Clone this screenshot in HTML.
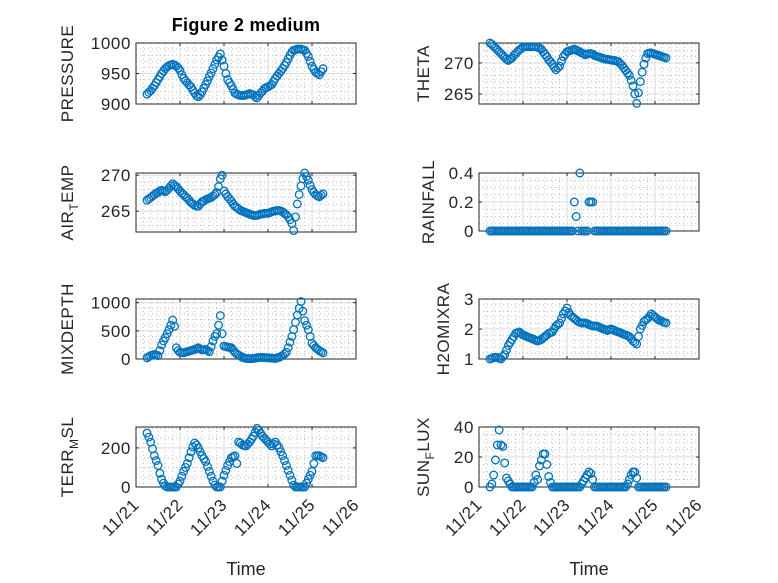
<!DOCTYPE html>
<html><head><meta charset="utf-8"><style>
html,body{margin:0;padding:0;background:#fff;}
svg{display:block;font-family:"Liberation Sans",sans-serif;}
</style></head><body>
<svg id="fig" width="778" height="583" viewBox="0 0 778 583" xmlns="http://www.w3.org/2000/svg">
<rect width="778" height="583" fill="#fff"/>
<text x="246" y="31" text-anchor="middle" font-size="18" font-weight="bold" fill="#000" letter-spacing="0.3">Figure 2 medium</text>
</svg>
<script>
const days = ["11/21","11/22","11/23","11/24","11/25","11/26"];
const t0 = 0.25, dtStep = 1/24;
const pressure = [916,919,922,926,930,935,940,945,950,954,
958,961,963,964,965,964,962,959,955,948,
942,938,935,931,928,923,918,914,912,915,
920,926,932,938,945,951,958,965,972,977,
982,972,962,950,940,935,930,924,918,916,
915,914,914,914,915,916,917,916,915,912,
910,914,918,921,925,927,928,930,932,937,
942,946,950,954,958,963,968,974,980,985,
988,989,990,990,990,989,988,983,978,970,
962,957,952,950,948,953,958];
const airTemp = [266.5,266.7,266.9,267.1,267.3,267.5,267.6,267.8,267.9,267.8,
267.7,267.9,268.2,268.5,268.8,268.6,268.4,268.1,267.8,267.5,
267.3,267.0,266.8,266.5,266.2,266.0,265.8,265.7,265.7,266.0,
266.3,266.4,266.6,266.7,266.8,266.9,267.1,267.3,267.6,268.4,
269.5,270.0,267.8,267.4,267.0,266.7,266.4,266.0,265.7,265.5,
265.3,265.1,265.0,264.9,264.8,264.7,264.6,264.5,264.4,264.4,
264.4,264.5,264.6,264.6,264.7,264.7,264.7,264.8,264.9,265.0,
265.0,265.1,265.1,265.0,264.9,264.7,264.5,264.2,263.8,263.3,
262.3,264.2,266.0,267.3,268.5,269.5,270.3,269.8,269.3,268.6,
268.0,267.6,267.3,267.1,267.0,267.2,267.4];
const mixDepth = [20,40,60,70,80,70,60,150,250,320,
380,450,520,600,690,580,200,150,120,115,
110,120,130,140,150,160,170,185,200,180,
160,165,170,150,130,220,320,400,450,600,
770,450,230,220,210,205,200,160,120,90,
70,50,30,20,10,8,5,8,10,15,
20,25,30,28,25,22,20,18,15,12,
10,20,30,45,60,90,120,200,300,400,
520,650,780,900,1020,850,680,600,520,400,
280,240,200,175,150,130,110];
const terrMsl = [276,255,230,195,160,135,110,70,40,20,
5,0,0,0,0,0,0,15,30,55,
80,100,120,150,180,205,225,215,200,180,
160,145,130,105,80,55,30,10,0,0,
0,30,60,85,110,130,150,155,160,120,
230,225,215,212,210,220,230,245,260,280,
300,290,275,260,250,240,230,220,210,220,
230,215,200,180,160,135,110,85,60,35,
10,0,0,0,0,0,0,20,40,60,
80,120,160,160,160,155,150];
const theta = [273.2,273.0,272.7,272.4,272.1,271.8,271.5,271.2,270.9,270.6,
270.4,270.6,270.8,271.2,271.5,271.8,272.1,272.3,272.5,272.6,
272.6,272.6,272.6,272.6,272.6,272.6,272.5,272.4,272.2,271.8,
271.4,271.0,270.5,270.2,269.8,269.3,268.9,269.2,269.5,270.3,
271.0,271.4,271.8,271.9,272.0,272.1,272.2,272.1,271.9,271.8,
271.6,271.5,271.3,271.4,271.5,271.5,271.4,271.2,271.1,271.0,
270.9,270.8,270.7,270.6,270.6,270.5,270.5,270.4,270.4,270.3,
270.2,269.9,269.6,269.2,268.8,268.4,268.0,267.2,266.3,265.0,
263.5,265.2,267.0,268.5,269.8,270.8,271.5,271.6,271.6,271.5,
271.4,271.3,271.2,271.1,271.0,270.9,270.8];
const rainfall = [0,0,0,0,0,0,0,0,0,0,
0,0,0,0,0,0,0,0,0,0,
0,0,0,0,0,0,0,0,0,0,
0,0,0,0,0,0,0,0,0,0,
0,0,0,0,0,0,0.2,0.1,0,0.4,
0,0,0,0,0.2,0.2,0.2,0,0,0,
0,0,0,0,0,0,0,0,0,0,
0,0,0,0,0,0,0,0,0,0,
0,0,0,0,0,0,0,0,0,0,
0,0,0,0,0,0,0];
const h2oMix = [1.0,1.02,1.05,1.05,1.05,1.02,1.0,1.08,1.15,1.3,
1.45,1.55,1.65,1.75,1.85,1.88,1.9,1.85,1.8,1.78,
1.75,1.72,1.7,1.68,1.65,1.62,1.6,1.62,1.65,1.7,
1.75,1.8,1.85,1.88,1.9,2.0,2.1,2.15,2.2,2.35,
2.5,2.6,2.7,2.55,2.45,2.4,2.35,2.3,2.25,2.22,
2.2,2.2,2.2,2.18,2.15,2.12,2.1,2.1,2.1,2.08,
2.05,2.02,2.0,1.98,1.95,1.98,2.0,1.98,1.95,1.92,
1.9,1.88,1.85,1.82,1.8,1.78,1.75,1.68,1.6,1.55,
1.5,1.75,2.0,2.12,2.25,2.3,2.35,2.42,2.5,2.45,
2.4,2.35,2.3,2.28,2.25,2.22,2.2];
const sunFlux = [0,2,8,18,28,38,28,27,16,6,
4,2,0,0,0,0,0,0,0,0,
0,0,0,0,3,8,5,14,18,22,
22,15,7,3,0,0,0,0,0,0,
0,0,0,0,0,0,0,0,0,0,
2,4,6,8,10,9,5,0,0,0,
0,0,0,0,0,0,0,0,0,0,
0,0,0,0,0,2,5,8,10,10,
6,0,0,0,0,0,0,0,0,0,
0,0,0,0,0,0,0];
const presTicks = [900,950,1000], airTicks = [265,270], mixTicks = [0,500,1000], terrTicks = [0,200];
const thetaTicks = [265,270], rainTicks = [0,0.2,0.4], h2oTicks = [1,2,3], sunTicks = [0,20,40];

const NS = "http://www.w3.org/2000/svg";
const svg = document.getElementById("fig");
function mk(tag, attrs, parent){ const e=document.createElementNS(NS,tag); for(const k in attrs) e.setAttribute(k,attrs[k]); (parent||svg).appendChild(e); return e; }

function panel(o){
  const g = mk("g",{});
  
  
  const L=o.x0, R=o.x0+220, T=o.y0, B=o.y0+o.h;
  const xs = d => L + d*44;
  const ys = v => B - (v-o.ymin)/(o.ymax-o.ymin)*o.h;
  for(let d=0; d<5; d++) for(let m=1;m<6;m++){ const x=xs(d+m/6); mk("line",{x1:x,x2:x,y1:T,y2:B,stroke:"#bdbdbd","stroke-width":1,"stroke-dasharray":"1 3"},g); }
  const step = o.ticks[1]-o.ticks[0];
  for(let v=o.ticks[0]-step; v<=o.ymax+1e-9; v+=step/o.ysub) { if(v<o.ymin-1e-9) continue; const y=ys(v); mk("line",{x1:L,x2:R,y1:y,y2:y,stroke:"#bdbdbd","stroke-width":1,"stroke-dasharray":"1 3"},g); }
  for(let d=1; d<5; d++){ const x=xs(d); mk("line",{x1:x,x2:x,y1:T,y2:B,stroke:"#dcdcdc","stroke-width":1},g); }
  o.ticks.forEach(v=>{ const y=ys(v); if(y>T+0.5&&y<B-0.5) mk("line",{x1:L,x2:R,y1:y,y2:y,stroke:"#dcdcdc","stroke-width":1},g); });
  mk("rect",{x:L,y:T,width:220,height:o.h,fill:"none",stroke:"#262626","stroke-width":1},g);
  for(let d=0; d<=5; d++){ const x=xs(d); mk("line",{x1:x,x2:x,y1:B,y2:B-3,stroke:"#262626"},g); mk("line",{x1:x,x2:x,y1:T,y2:T+3,stroke:"#262626"},g); }
  o.ticks.forEach(v=>{ const y=ys(v);
    mk("line",{x1:L,x2:L+3,y1:y,y2:y,stroke:"#262626"},g); mk("line",{x1:R,x2:R-3,y1:y,y2:y,stroke:"#262626"},g);
    const tl = mk("text",{x:L-5,y:y+6,"text-anchor":"end","font-size":17,"letter-spacing":"0.6",fill:"#262626"},g);
    
    
    tl.textContent = String(v);
  });
  const lab = mk("text",{transform:`translate(${o.lx},${(T+B)/2}) rotate(-90)`,"text-anchor":"middle","font-size":17,"letter-spacing":"0.5",fill:"#262626"},g);
  
  
  lab.innerHTML = o.label;
  o.data.forEach((v,i)=>{
    const c = mk("circle",{cx:xs(t0+i*dtStep),cy:ys(v),r:3.8,fill:"none",stroke:"#0072BD","stroke-width":1.3},g);
    
    
  });
  if(o.bottom){
    days.forEach((s,d)=>{ const x=xs(d)+4, y=B+19;
      const tx = mk("text",{transform:`translate(${x},${y}) rotate(-45)`,"text-anchor":"end","font-size":17,"letter-spacing":"0.5",fill:"#262626"},g);
      
      
      tx.textContent = s;
    });
    const xt = mk("text",{x:L+110,y:575,"text-anchor":"middle","font-size":18,fill:"#262626"},g);
    
    
    xt.textContent = "Time";
  }
}
const sub = (a,b,c)=>`${a}<tspan font-size="12" dy="5">${b}</tspan><tspan dy="-5">${c}</tspan>`;
panel({name:"pressure",x0:136,y0:43,h:61,ymin:900,ymax:1000,ticks:presTicks,ysub:5,data:pressure,label:"PRESSURE",lx:73});
panel({name:"air-temp",x0:136,y0:173,h:59,ymin:262.1,ymax:270.3,ticks:airTicks,ysub:5,data:airTemp,label:sub("AIR","T","EMP"),lx:73});
panel({name:"mixdepth",x0:136,y0:299,h:60,ymin:0,ymax:1065,ticks:mixTicks,ysub:5,data:mixDepth,label:"MIXDEPTH",lx:73});
panel({name:"terr-msl",x0:136,y0:427,h:60,ymin:0,ymax:307,ticks:terrTicks,ysub:4,data:terrMsl,label:sub("TERR","M","SL"),lx:73,bottom:true});
panel({name:"theta",x0:479,y0:43,h:61,ymin:263.4,ymax:273.2,ticks:thetaTicks,ysub:5,data:theta,label:"THETA",lx:429});
panel({name:"rainfall",x0:479,y0:173,h:58,ymin:0,ymax:0.4,ticks:rainTicks,ysub:4,data:rainfall,label:"RAINFALL",lx:434});
panel({name:"h2omixra",x0:479,y0:299,h:60,ymin:1,ymax:3,ticks:h2oTicks,ysub:5,data:h2oMix,label:"H2OMIXRA",lx:449});
panel({name:"sun-flux",x0:479,y0:427,h:60,ymin:0,ymax:40,ticks:sunTicks,ysub:4,data:sunFlux,label:sub("SUN","F","LUX"),lx:429,bottom:true});
</script>
</body></html>
